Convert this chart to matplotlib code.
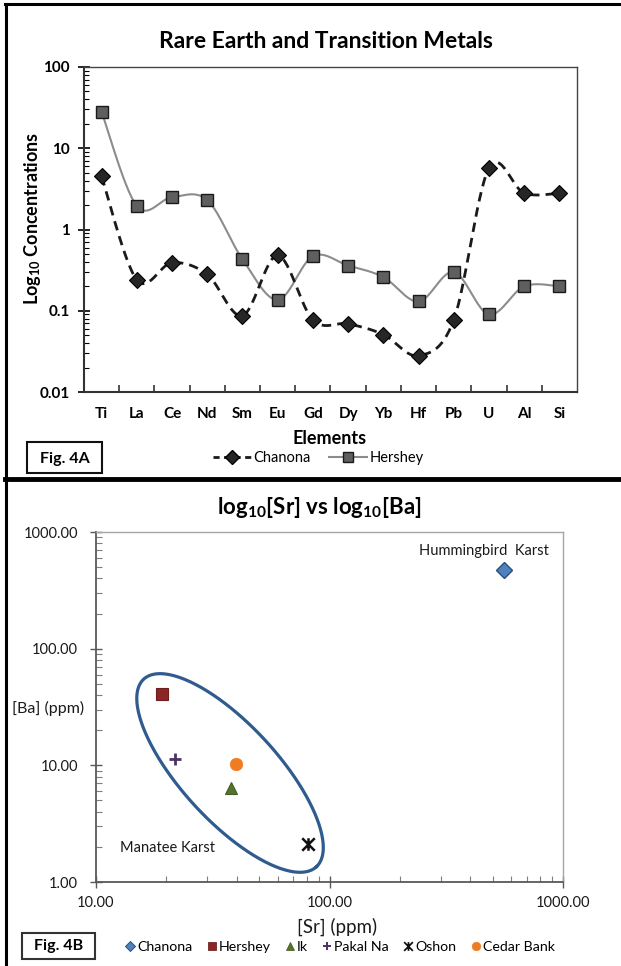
import numpy as np
import matplotlib
matplotlib.use('Agg')
import matplotlib.pyplot as plt
from matplotlib.path import Path
from matplotlib.lines import Line2D
from matplotlib.patches import Rectangle
from matplotlib.ticker import LogLocator, FixedLocator, NullFormatter, FuncFormatter

plt.rcParams['font.family'] = ['Lato', 'DejaVu Sans']
plt.rcParams['mathtext.fontset'] = 'custom'
plt.rcParams['mathtext.rm'] = 'Lato'
plt.rcParams['mathtext.bf'] = 'Lato:bold'
plt.rcParams['mathtext.it'] = 'Lato:italic'

# ---------------- data ----------------
elements = ['Ti', 'La', 'Ce', 'Nd', 'Sm', 'Eu', 'Gd', 'Dy', 'Yb', 'Hf', 'Pb', 'U', 'Al', 'Si']
chanona_conc = [4.5, 0.24, 0.39, 0.28, 0.087, 0.48, 0.077, 0.069, 0.051, 0.028, 0.077, 5.7, 2.8, 2.8]
hershey_conc = [28, 1.95, 2.5, 2.3, 0.43, 0.136, 0.47, 0.36, 0.26, 0.13, 0.30, 0.09, 0.20, 0.20]

sites = ['Chanona', 'Hershey', 'Ik', 'Pakal Na', 'Oshon', 'Cedar Bank']
sr_ppm = [558, 19.2, 37.8, 21.9, 80.9, 39.9]
ba_ppm = [472, 40.9, 6.4, 11.4, 2.1, 10.3]

W, H = 621, 966


def px(x, y):
    return x / W, 1 - y / H


def excel_smooth(x, y, n=30):
    P = np.column_stack([np.asarray(x, float), np.asarray(y, float)])
    Pe = np.vstack([P[0], P, P[-1]])
    out = []
    t = np.linspace(0, 1, n)[:, None]
    for i in range(len(P) - 1):
        p0, p1, p2, p3 = Pe[i], Pe[i + 1], Pe[i + 2], Pe[i + 3]
        c1 = p1 + (p2 - p0) / 6
        c2 = p2 - (p3 - p1) / 6
        seg = (1 - t) ** 3 * p1 + 3 * (1 - t) ** 2 * t * c1 + 3 * (1 - t) * t ** 2 * c2 + t ** 3 * p2
        out.append(seg if i == 0 else seg[1:])
    s = np.vstack(out)
    return s[:, 0], s[:, 1]


fig = plt.figure(figsize=(W / 100, H / 100), dpi=100)
fig.patch.set_facecolor('white')

# ---------------- Fig 4A ----------------
ax1 = fig.add_axes([84 / W, 1 - 392 / H, (577 - 84) / W, (392 - 67) / H])
xi = np.arange(len(elements))
cx, cy = excel_smooth(xi, np.log10(chanona_conc))
hx, hy = excel_smooth(xi, np.log10(hershey_conc))
ax1.plot(hx, 10 ** hy, color='#8c8c8c', lw=1.5, zorder=2)
ax1.plot(cx, 10 ** cy, color='#1a1a1a', lw=2.0, ls=(0, (3.4, 2.2)), zorder=2)
ax1.plot(xi, hershey_conc, ls='none', marker='s', ms=8.5, mfc='#5f5f5f', mec='#1a1a1a', mew=1.0, zorder=3)
ax1.plot(xi, chanona_conc, ls='none', marker='D', ms=8.5, mfc='#262626', mec='#000000', mew=0.8, zorder=4)
ax1.set_yscale('log')
ax1.set_ylim(0.01, 100)
ax1.set_xlim(-0.5, len(elements) - 0.5)
ax1.xaxis.set_major_locator(FixedLocator(xi))
ax1.set_xticklabels(elements, fontsize=11, fontweight='bold')
ax1.xaxis.set_minor_locator(FixedLocator(np.arange(0.5, len(elements) - 1, 1)))
ax1.tick_params(axis='x', which='major', length=0, pad=11)
ax1.tick_params(axis='x', which='minor', direction='in', length=5, width=1.2, color='#333333')
ax1.yaxis.set_major_locator(LogLocator(base=10, numticks=10))
ax1.yaxis.set_minor_locator(LogLocator(base=10, subs=np.arange(2, 10), numticks=10))
ax1.yaxis.set_major_formatter(FuncFormatter(lambda v, p: '%g' % v))
ax1.yaxis.set_minor_formatter(NullFormatter())
ax1.tick_params(axis='y', which='major', direction='inout', length=8, width=1.2, labelsize=11, pad=6)
ax1.tick_params(axis='y', which='minor', direction='in', length=3.5, width=0.8)
for lab in ax1.get_yticklabels():
    lab.set_fontweight('bold')
for s in ['left', 'bottom']:
    ax1.spines[s].set_linewidth(1.5)
    ax1.spines[s].set_color('#333333')
for s in ['top', 'right']:
    ax1.spines[s].set_linewidth(1.0)
    ax1.spines[s].set_color('#444444')

fig.text(*px(326, 42), 'Rare Earth and Transition Metals', ha='center', va='center',
         fontsize=16.5, fontweight='bold')
fig.text(*px(33, 218), r'Log$_{\mathbf{10}}$ Concentrations', ha='center', va='center',
         rotation=90, fontsize=13, fontweight='bold')
fig.text(*px(330, 438), 'Elements', ha='center', va='center', fontsize=13, fontweight='bold')

h_chan = Line2D([], [], color='#1a1a1a', lw=2.0, ls=(0, (2.2, 1.6)), marker='D', ms=7, mfc='#262626', mec='#000')
h_hers = Line2D([], [], color='#8c8c8c', lw=1.5, marker='s', ms=7, mfc='#5f5f5f', mec='#1a1a1a')
fig.legend([h_chan, h_hers], ['Chanona', 'Hershey'], loc='center', bbox_to_anchor=px(318, 458),
           ncol=2, frameon=False, fontsize=10.5, handlelength=2.6, handletextpad=0.15,
           columnspacing=1.3, borderpad=0, borderaxespad=0)

fig.add_artist(Rectangle(px(27, 473), 75 / W, 31 / H, transform=fig.transFigure,
                         fill=False, ec='#111111', lw=1.5))
fig.text(*px(64.5, 459), 'Fig. 4A', ha='center', va='center', fontsize=11.5, fontweight='bold')

# ---------------- Fig 4B ----------------
ax2 = fig.add_axes([96 / W, 1 - 882 / H, (563 - 96) / W, (882 - 532) / H])
ax2.set_xscale('log')
ax2.set_yscale('log')
ax2.set_xlim(10, 1000)
ax2.set_ylim(1, 1000)

plus_marker = Path([(-1, 0), (1, 0), (0, -1), (0, 1)],
                   [Path.MOVETO, Path.LINETO, Path.MOVETO, Path.LINETO])
star_marker = Path([(-1, -1), (1, 1), (-1, 1), (1, -1), (0, -1), (0, 1)],
                   [Path.MOVETO, Path.LINETO, Path.MOVETO, Path.LINETO, Path.MOVETO, Path.LINETO])
styles = {
    'Chanona': dict(marker='D', ms=8, mfc='#4f81bd', mec='#2b4f7c', mew=1.0),
    'Hershey': dict(marker='s', ms=8.5, mfc='#8b2626', mec='#6e1c1c', mew=0.8),
    'Ik': dict(marker='^', ms=9, mfc='#55732b', mec='#445d22', mew=0.8),
    'Pakal Na': dict(marker=plus_marker, ms=9, mec='#4a3466', mew=2.0),
    'Oshon': dict(marker=star_marker, ms=9, mec='#111111', mew=1.8),
    'Cedar Bank': dict(marker='o', ms=9, mfc='#f07c22', mec='#f07c22', mew=0.5),
}

handles = []
for name, sx_, by_ in zip(sites, sr_ppm, ba_ppm):
    st = styles[name]
    ax2.plot([sx_], [by_], ls='none', zorder=4, **st)
    hst = dict(st)
    hst['ms'] = st['ms'] * 0.7
    hst['mew'] = hst['mew'] * 0.7
    handles.append(Line2D([], [], ls='none', **hst))

ax2.xaxis.set_major_locator(LogLocator(base=10, numticks=10))
ax2.yaxis.set_major_locator(LogLocator(base=10, numticks=10))
ax2.xaxis.set_minor_locator(LogLocator(base=10, subs=np.arange(2, 10), numticks=10))
ax2.yaxis.set_minor_locator(LogLocator(base=10, subs=np.arange(2, 10), numticks=10))
fmt = FuncFormatter(lambda v, p: '%.2f' % v)
ax2.xaxis.set_major_formatter(fmt)
ax2.yaxis.set_major_formatter(fmt)
ax2.xaxis.set_minor_formatter(NullFormatter())
ax2.yaxis.set_minor_formatter(NullFormatter())
ax2.tick_params(which='major', direction='inout', length=8, width=1.0, color='#595959',
                labelsize=10.5, labelcolor='#1a1a1a')
ax2.tick_params(axis='y', which='major', pad=9)
ax2.tick_params(axis='x', which='major', pad=6)
ax2.tick_params(which='minor', direction='in', length=4, width=0.8, color='#7f7f7f')
for s in ['left', 'bottom']:
    ax2.spines[s].set_linewidth(1.3)
    ax2.spines[s].set_color('#595959')
for s in ['top', 'right']:
    ax2.spines[s].set_linewidth(1.0)
    ax2.spines[s].set_color('#a6a6a6')

# ellipse outlining the Manatee Karst group (drawn in screen space like the original)
fig.canvas.draw()
c_disp = ax2.transData.transform((37.5, 8.6))
a_px, b_px, ang = 127.5, 48.0, np.deg2rad(-47.4)
tt = np.linspace(0, 2 * np.pi, 300)
ex = a_px * np.cos(tt) * np.cos(ang) - b_px * np.sin(tt) * np.sin(ang) + c_disp[0]
ey = a_px * np.cos(tt) * np.sin(ang) + b_px * np.sin(tt) * np.cos(ang) + c_disp[1]
eax = ax2.transAxes.inverted().transform(np.column_stack([ex, ey]))
ax2.plot(eax[:, 0], eax[:, 1], transform=ax2.transAxes, color='#2f5b8e', lw=2.3, zorder=3, clip_on=False)

fig.text(*px(484, 551), 'Hummingbird  Karst', ha='center', va='center', fontsize=10.5, color='#1a1a1a')
fig.text(*px(168, 848), 'Manatee Karst', ha='center', va='center', fontsize=10.5, color='#1a1a1a')

fig.text(*px(319, 508), r'log$_{\mathbf{10}}$[Sr] vs log$_{\mathbf{10}}$[Ba]', ha='center', va='center',
         fontsize=16, fontweight='bold')
fig.text(*px(48, 708), '[Ba] (ppm)', ha='center', va='center', fontsize=11.5, color='#1a1a1a')
fig.text(*px(337, 927), '[Sr] (ppm)', ha='center', va='center', fontsize=13.5, color='#1a1a1a')

fig.legend(handles, sites, loc='center', bbox_to_anchor=px(340, 947), ncol=6, frameon=False,
           fontsize=10.2, handlelength=0.7, handletextpad=0.15, columnspacing=1.0,
           borderpad=0, borderaxespad=0)

fig.add_artist(Rectangle(px(22, 959), 73 / W, 26 / H, transform=fig.transFigure,
                         fill=False, ec='#333333', lw=1.5))
fig.text(*px(58.5, 946), 'Fig. 4B', ha='center', va='center', fontsize=11.5, fontweight='bold')

# ---------------- panel borders ----------------
fig.add_artist(Line2D([6 / W, 6 / W], [0, 1 - 4 / H], transform=fig.transFigure, color='black', lw=2.2))
fig.add_artist(Line2D([5 / W, 1], [1 - 4 / H, 1 - 4 / H], transform=fig.transFigure, color='black', lw=2.2))
fig.add_artist(Line2D([5 / W, 1], [1 - 479 / H, 1 - 479 / H], transform=fig.transFigure, color='black', lw=3.5))

fig.savefig('out.png', dpi=100, facecolor='white')
